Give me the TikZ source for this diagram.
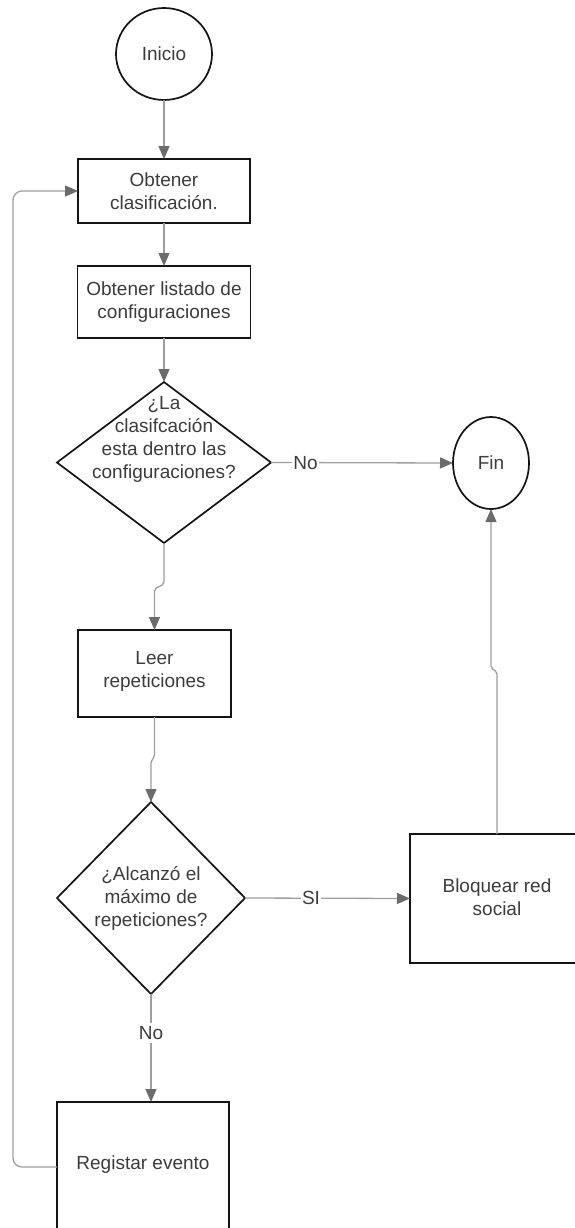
\documentclass[tikz,border=0pt]{standalone}
\usepackage{fontspec}
\setmainfont{Liberation Sans}
\usetikzlibrary{arrows.meta,shapes.geometric}
\definecolor{linegray}{HTML}{9E9E9E}
\definecolor{tipgray}{HTML}{6B6B6B}
\definecolor{txtgray}{HTML}{3C3C3C}
\definecolor{edgeblack}{HTML}{141414}

\begin{document}
\begin{tikzpicture}[x=1pt,y=-1pt,
  every node/.style={font=\fontsize{19}{23}\selectfont, text=txtgray, align=center},
  shapebox/.style={draw=edgeblack, line width=1.7pt, inner sep=0pt, outer sep=0pt, fill=white},
  conn/.style={draw=linegray, line width=1.3pt,
    -{Triangle[length=13pt,width=11pt,color=tipgray]}},
  lbl/.style={fill=white, inner sep=1pt}
]
\useasboundingbox (0,0) rectangle (574,1228);

% start / end terminals
\node[shapebox, ellipse, minimum width=96pt, minimum height=92pt] (inicio) at (164,54) {Inicio};
\node[shapebox, ellipse, minimum width=76pt, minimum height=92pt] (fin) at (491,463) {Fin};

% process steps
\node[shapebox, rectangle, minimum width=172pt, minimum height=64pt] (obt) at (164,191) {Obtener\\clasificación.};
\node[shapebox, rectangle, minimum width=173pt, minimum height=72pt] (lista) at (164,302) {Obtener listado de\\configuraciones};
\node[shapebox, rectangle, minimum width=153pt, minimum height=87pt] (leer) at (154.5,673.5) {};
\node (leertxt) at (154.5,671) {Leer\\repeticiones};
\node[shapebox, rectangle, minimum width=174pt, minimum height=129pt] (bloq) at (497,898.5) {};
\node (bloqtxt) at (497,897) {Bloquear red\\social};
\node[shapebox, rectangle, minimum width=172pt, minimum height=130pt] (reg) at (143,1167) {};
\node (regtxt) at (143,1165) {Registar evento};

% decisions
\node[shapebox, diamond, minimum width=214pt, minimum height=161pt] (d1) at (164,462.5) {};
\node (d1txt) at (164,439) {¿La\\clasifcación\\esta dentro las\\configuraciones?};
\node[shapebox, diamond, minimum width=188pt, minimum height=192pt] (d2) at (151,898) {};
\node (d2txt) at (151,898) {¿Alcanzó el\\máximo de\\repeticiones?};

% connectors
\draw[conn] (inicio.south) -- (obt.north);
\draw[conn] (obt.south) -- (lista.north);
\draw[conn] (lista.south) -- (d1.north);
\draw[conn] (d1.east) -- node[lbl, pos=0.19] {No} (fin.west);
\draw[conn, rounded corners=2pt] (d1.south) -- (164,584) -- (leer.north |- 0,589) -- (leer.north);
\draw[conn, rounded corners=2pt] (leer.south) -- (leer.south |- 0,757) -- (d2.north |- 0,761) -- (d2.north);
\draw[conn] (d2.east) -- node[lbl, pos=0.40] {SI} (bloq.west);
\draw[conn, rounded corners=2pt] (bloq.north) -- (bloq.north |- 0,672) -- (fin.south |- 0,668) -- (fin.south);
\draw[conn] (d2.south) -- node[lbl, pos=0.36, inner sep=3pt] {No} (d2.south |- reg.north);
\draw[conn, rounded corners=9pt] (reg.west) -- ++(-44,0) |- (obt.west);
\end{tikzpicture}
\end{document}
